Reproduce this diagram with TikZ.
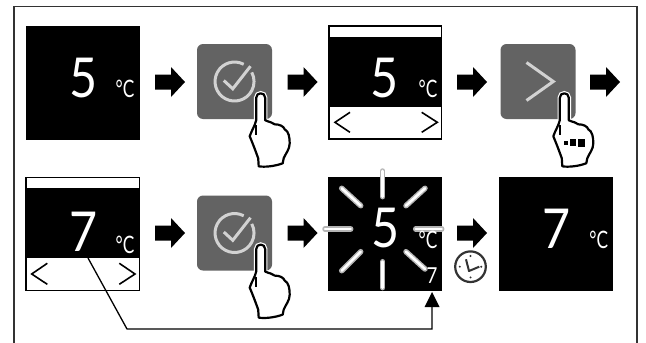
\documentclass[tikz,border=0pt]{standalone}
\usepackage{fontspec}
\usepackage{graphicx}
\setmainfont{Liberation Sans}
\newfontfamily\lightfont{Lato}
\definecolor{btn}{HTML}{636363}
\definecolor{sym}{HTML}{D2D2D2}
\definecolor{ray}{HTML}{B4B4B4}
\definecolor{framec}{HTML}{333333}
\newcommand{\bigdigit}[1]{{\lightfont\fontsize{55}{55}\selectfont\scalebox{0.88}[1]{#1}}}
\newcommand{\unitC}{{\lightfont\fontsize{24}{24}\selectfont\scalebox{0.72}[1]{°C}}}
\newcommand{\smalldigit}[1]{{\lightfont\fontsize{22}{22}\selectfont\scalebox{0.85}[1]{#1}}}
\tikzset{
  x=1pt,y=-1pt,
  disp/.style={fill=black,draw=none},
  digitnode/.style={anchor=base,inner sep=0pt,outer sep=0pt,text=white},
  chev/.style={draw=black,line width=1.6pt,miter limit=10},
  symline/.style={draw=sym,line width=3pt},
  raybase/.style={draw=ray,line width=5.5pt,line cap=round},
  raycore/.style={draw=white,line width=2.6pt,line cap=round},
  blockarrow/.pic={\fill[black] (-15,-7.5) -- (1,-7.5) -- (1,-15) -- (15,0) -- (1,15) -- (1,7.5) -- (-15,7.5) -- cycle;},
  okbutton/.pic={
    \fill[btn,rounded corners=6pt] (-37.5,-37.5) rectangle (37.5,37.5);
    \draw[symline] (9.2,-17.2) arc[start angle=-62,end angle=-388,radius=19.5];
    \draw[symline] (-10.7,-1) -- (-1.7,7.3) -- (16,-15.3);
  },
  nextbutton/.pic={
    \fill[btn,rounded corners=6pt] (-37.5,-37.5) rectangle (37.5,37.5);
    \draw[symline] (-11.5,-19) -- (15.3,0) -- (-11.5,19);
  },
  handoutline/.pic={
    \path[pic actions] (-4.5,4.5) .. controls (-4.5,-1.5) and (4.5,-1.5) .. (4.5,4.5)
      -- (4.5,27) .. controls (9,29) and (12,29) .. (14,31)
      .. controls (19,31) and (23,33) .. (24,36)
      .. controls (28,38) and (29,44) .. (29,50)
      .. controls (29,56) and (25,60) .. (23,65) -- (22,70)
      .. controls (14,73) and (4,74) .. (-2,73) -- (-2.5,65)
      .. controls (-5,58) and (-8,50) .. (-11,43)
      .. controls (-9,37) and (-6,33) .. (-4.5,27) -- cycle;
  },
  handpic/.pic={
    \draw[white,line width=4.5pt] (-4.5,28) -- (-4.5,4.5) .. controls (-4.5,-1.5) and (4.5,-1.5) .. (4.5,4.5) -- (4.5,28);
    \pic[draw=black,fill=white,line width=2.2pt,line join=round] {handoutline};
    \draw[black,line width=1.5pt] (-4.5,32) -- (-4.5,42);
  }
}
\begin{document}
\begin{tikzpicture}
\useasboundingbox (0,0) rectangle (646,343);
\fill[white] (0,0) rectangle (646,343);
% frame
\draw[framec,line width=1.8pt] (14,343) -- (14,6.5) -- (637,6.5) -- (637,343);

% row 1
\fill[disp] (26,26) rectangle (140,140);
\node[digitnode] (d1) at (83.5,97.3) {\bigdigit{5}};
\node[digitnode] (u1) at (125,97) {\unitC};
\pic at (170,82) {blockarrow};
\pic at (234.5,81.5) {okbutton};
\pic at (260.7,93.3) {handpic};
\pic at (302.5,82) {blockarrow};

\draw[black,line width=1.3pt,fill=white] (329,26) rectangle (441.5,139);
\fill[disp] (329,37) rectangle (441.5,107);
\node[digitnode] (d2) at (385,97) {\bigdigit{5}};
\node[digitnode] (u2) at (428,97) {\unitC};
\draw[chev] (350,112.3) -- (335,122.3) -- (350,132.3);
\draw[chev] (421.7,112.3) -- (437.3,122.3) -- (421.7,132.3);
\pic at (472,82) {blockarrow};
\pic at (538,81.5) {nextbutton};
\pic at (564.3,93.3) {handpic};
\fill[black] (564,140.7) rectangle (568,144.7);
\fill[black] (570,139) rectangle (576,146);
\fill[black] (578,138.5) rectangle (585,146.5);
\pic at (605,82) {blockarrow};

% row 2
\draw[black,line width=1.3pt,fill=white] (26,177.3) rectangle (139.5,290.7);
\fill[disp] (26,188) rectangle (139.5,258);
\node[digitnode] (d3) at (84,251) {\bigdigit{7}};
\node[digitnode] (u3) at (125,253) {\unitC};
\draw[chev] (47.3,263.3) -- (31.7,274) -- (47.3,284.3);
\draw[chev] (119.3,263.3) -- (135,274) -- (119.3,284.3);
\coordinate (linestart) at (88,258);
\pic at (170,233) {blockarrow};
\pic at (234.5,233) {okbutton};
\pic at (260.7,244.6) {handpic};
\pic at (302.5,233) {blockarrow};

\fill[disp] (328,177) rectangle (442,291);
\foreach \a/\b/\c/\d in {382.7/171/382.7/196.7, 382.7/261.7/382.7/287.7, 325/229/350.7/229, 415.7/229/441.7/229, 341.7/188.3/360.7/205.7, 425/188.3/406/205.7, 341.7/270.7/360.7/251.7, 406/251.7/425/269}{
  \draw[raybase] (\a,\b) -- (\c,\d);
  \draw[raycore] (\a,\b) -- (\c,\d);
}
\node[digitnode] (d4) at (385.7,247) {\bigdigit{5}};
\node[digitnode] (u4) at (428,248.3) {\unitC};
\node[digitnode] (s4) at (432,283.5) {\smalldigit{7}};
\pic at (472,233) {blockarrow};
% clock
\draw[framec,line width=2.2pt] (470.5,266.7) circle[radius=15.3];
\draw[framec,line width=2pt,line join=round] (466,259.3) -- (469,271) -- (479.3,266.7);
\foreach \cx/\cy in {470.5/256, 470.5/277.4, 459.8/266.7, 481.2/266.7}{\fill[framec] (\cx,\cy) circle[radius=1.1];}

\fill[disp] (499,177) rectangle (613,291);
\node[digitnode] (d5) at (556.5,248) {\bigdigit{7}};
\node[digitnode] (u5) at (598.7,248.3) {\unitC};

% connector
\coordinate (lineend) at (432,292);
\coordinate (linecorner) at (127,329);
\draw[black,line width=1.3pt] (linestart) -- (linecorner) -| (432,306);
\fill[black] (lineend) -- (439.5,307) -- (424.5,307) -- cycle;
\end{tikzpicture}
\end{document}
